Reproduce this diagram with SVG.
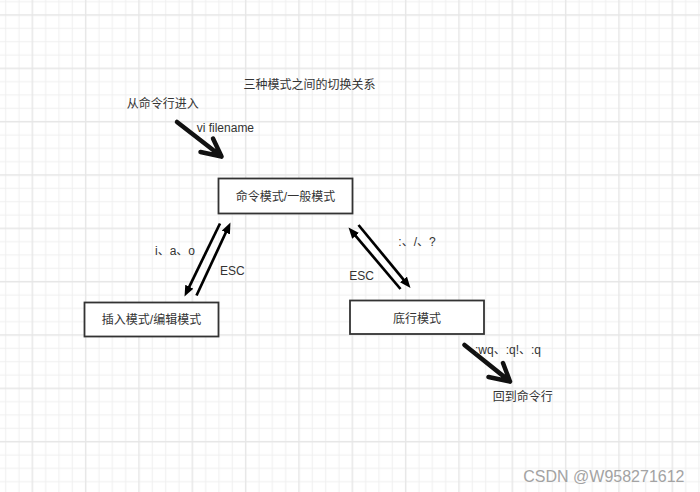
<svg xmlns="http://www.w3.org/2000/svg" width="700" height="492" viewBox="0 0 700 492">
<style>
text{font-family:"Liberation Sans","Noto Sans CJK SC",sans-serif;fill:#333;font-size:12px}
.box{fill:#fff;stroke:#333;stroke-width:1.8}
.mid{text-anchor:middle}
.thin{fill:none;stroke:#000;stroke-width:2.7;marker-end:url(#head)}
.thick{fill:none;stroke:#111;stroke-width:4.5;stroke-linecap:round;stroke-linejoin:round}
.minor{stroke:#f0f0f0;stroke-width:1}
.major{stroke:#e6e6e6;stroke-width:1.4}
.wm{fill:#a3a3a3;font-size:16px}
</style>
<defs>
<pattern id="grid" patternUnits="userSpaceOnUse" x="25.667" y="8.333" width="53.333" height="53.333">
<path class="minor" d="M20,0V53.333M33.333,0V53.333M46.667,0V53.333M0,20H53.333M0,33.333H53.333M0,46.667H53.333"/>
<path class="major" d="M6.667,0V53.333M0,6.667H53.333"/>
</pattern>
<marker id="head" markerUnits="userSpaceOnUse" markerWidth="12" markerHeight="10" refX="3" refY="4.5" orient="auto" viewBox="0 0 12 10">
<path d="M0,0L11,4.5L0,9z" fill="#000"/>
</marker>
</defs>
<rect width="700" height="492" fill="#fff"/>
<rect width="700" height="492" fill="url(#grid)"/>
<g id="title"><text x="243.5" y="89" font-size="11.3">三种模式之间的切换关系</text></g>
<g id="connectors">
<path class="thick" d="M177,122L221.5,156.5M213,138.5L221.5,156.5L200.5,152"/>
<path class="thin" d="M220,223.5L188,289.3"/>
<path class="thin" d="M196.5,295.5L227.1,229.8"/>
<path class="thin" d="M400.5,289L353.7,233.6"/>
<path class="thin" d="M358.5,225L405.4,281.8"/>
<path class="thick" d="M464.5,345L510,381.5M503,363L510,381.5L488.5,377"/>
</g>
<g id="label-enter"><text x="126.7" y="107.5" font-size="11.5">从命令行进入</text></g>
<g id="label-vi"><text x="196.7" y="131.5">vi filename</text></g>
<g id="node-command"><rect class="box" x="218.5" y="178.5" width="134" height="35"/><text class="mid" x="285.5" y="201" font-size="11.7">命令模式/一般模式</text></g>
<g id="node-insert"><rect class="box" x="84.5" y="302.5" width="134" height="34"/><text class="mid" x="151.5" y="323.5" font-size="11.7">插入模式/编辑模式</text></g>
<g id="node-lastline"><rect class="box" x="350" y="300.5" width="134" height="33.5"/><text class="mid" x="417" y="322.5" font-size="11.7">底行模式</text></g>
<g id="label-iao"><text x="155" y="255" font-size="11.5">i、a、o</text></g>
<g id="label-esc-left"><text x="220" y="275" font-size="11">ESC</text></g>
<g id="label-colon"><text x="398.3" y="245.5">:、/、?</text></g>
<g id="label-esc-right"><text x="349.3" y="280" font-size="11">ESC</text></g>
<g id="label-wq"><text x="475" y="353.5">:wq、:q!、:q</text></g>
<g id="label-back"><text x="492.7" y="401">回到命令行</text></g>
<g id="watermark"><text class="wm" x="523.3" y="482">CSDN @W958271612</text></g>
</svg>
